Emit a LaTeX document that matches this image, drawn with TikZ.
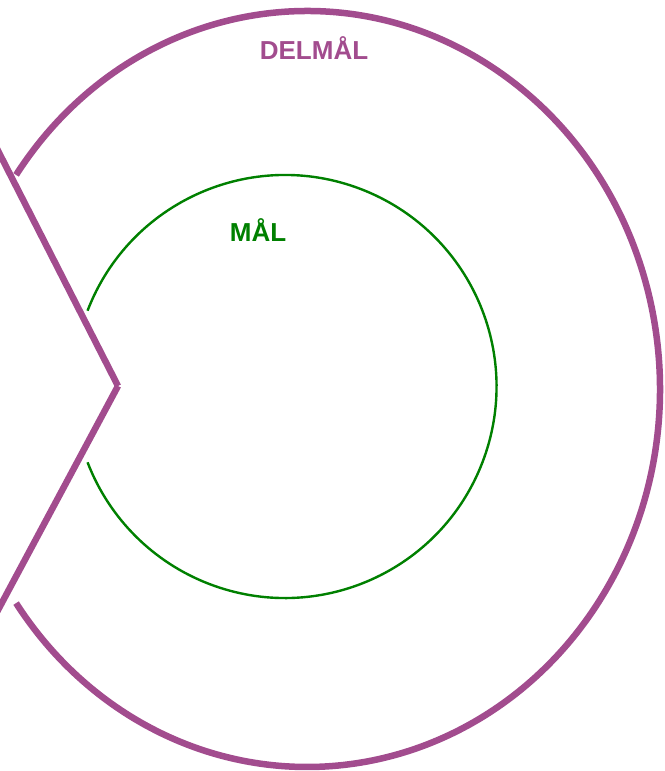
\documentclass[tikz,border=0pt]{standalone}
\usepackage{fontspec}
\setmainfont{Liberation Sans}
\definecolor{delmaal}{RGB}{162,76,142}
\definecolor{maal}{RGB}{0,128,0}
\begin{document}
\begin{tikzpicture}[x=1pt,y=-1pt,
  outerring/.style={draw=delmaal,line width=6.5pt},
  innerring/.style={draw=maal,line width=2.4pt},
  ringlabel/.style={font=\bfseries\fontsize{26}{31}\selectfont,inner sep=0pt}]
\useasboundingbox (0,0) rectangle (664,771);
\clip (0,0) rectangle (664,771);
% outer ring (delmaal)
\draw[outerring] (307,389) ++(145.5:353 and -378) arc[start angle=145.5,end angle=-145.5,x radius=353,y radius=-378];
\draw[outerring] (-10,135) -- (118,386);
\draw[outerring] (118,386) -- (-10,625);
% inner ring (maal)
\draw[innerring] (285,386.5) ++(159:211.5 and -211.5) arc[start angle=159,end angle=-159,x radius=211.5,y radius=-211.5];
\node[ringlabel,text=delmaal] (delmaal) at (314,48) {DELMÅL};
\node[ringlabel,text=maal] (maal) at (258,230) {MÅL};
\end{tikzpicture}
\end{document}
